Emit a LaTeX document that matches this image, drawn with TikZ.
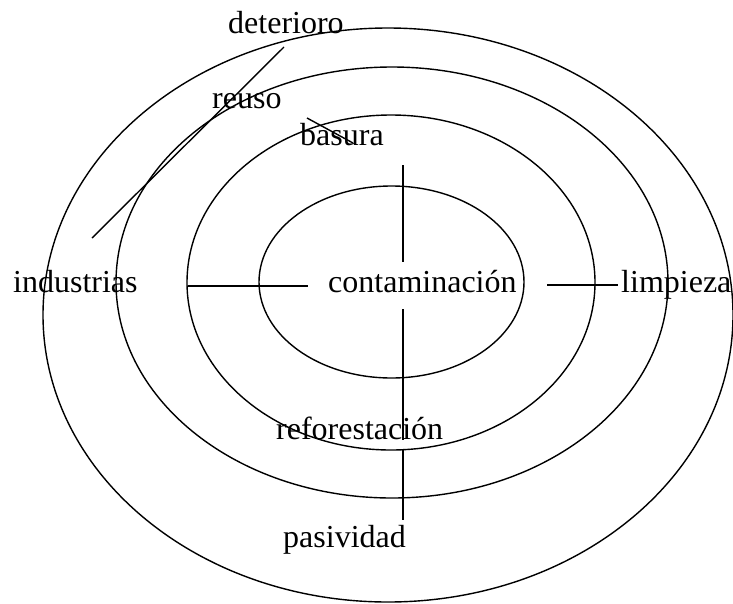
\documentclass[tikz,border=0pt]{standalone}
\usepackage{fontspec}
\setmainfont{Liberation Serif}
\begin{document}
\begin{tikzpicture}[x=1pt,y=-1pt,
  ring/.style={line width=1.4pt},
  link/.style={line width=1.4pt},
  lbl/.style={anchor=base west,inner sep=0pt,font=\fontsize{32}{38}\selectfont}]
\useasboundingbox (0,0) rectangle (733,603);
% rings
\draw[ring] (388,315) ellipse [x radius=345pt, y radius=287pt];
\draw[ring] (392,282.5) ellipse [x radius=276pt, y radius=215.5pt];
\draw[ring] (391,282.5) ellipse [x radius=204pt, y radius=167.5pt];
\draw[ring] (391.5,282) ellipse [x radius=132.5pt, y radius=96pt];
% labels
\node[lbl] (det) at (228,33) {deterioro};
\node[lbl] (reu) at (212,108) {reuso};
\node[lbl] (bas) at (300,145) {basura};
\node[lbl] (ind) at (13,292) {industrias};
\node[lbl] (con) at (328,292) {contaminación};
\node[lbl] (lim) at (621,292) {limpieza};
\node[lbl] (ref) at (276,439) {reforestación};
\node[lbl] (pas) at (283,547) {pasividad};
% connector end points
\coordinate (vt1) at (403,165);
\coordinate (vt2) at (403,262);
\coordinate (vb1) at (403,309);
\coordinate (vb2) at (403,440);
\coordinate (vb3) at (403,450);
\coordinate (vb4) at (403,520);
\coordinate (hl1) at (188,286);
\coordinate (hl2) at (308,286);
\coordinate (hr1) at (547,285);
\coordinate (hr2) at (618,285);
\coordinate (d1) at (284,47);
\coordinate (d2) at (92,238);
\coordinate (s1) at (307,118);
\coordinate (s2) at (353,143);
% connectors
\draw[link] (vt1) -- (vt2);
\draw[link] (vb1) -- (vb2);
\draw[link] (vb3) -- (vb4);
\draw[link] (hl1) -- (hl2);
\draw[link] (hr1) -- (hr2);
\draw[link] (d1) -- (d2);
\draw[link] (s1) -- (s2);
\end{tikzpicture}
\end{document}
